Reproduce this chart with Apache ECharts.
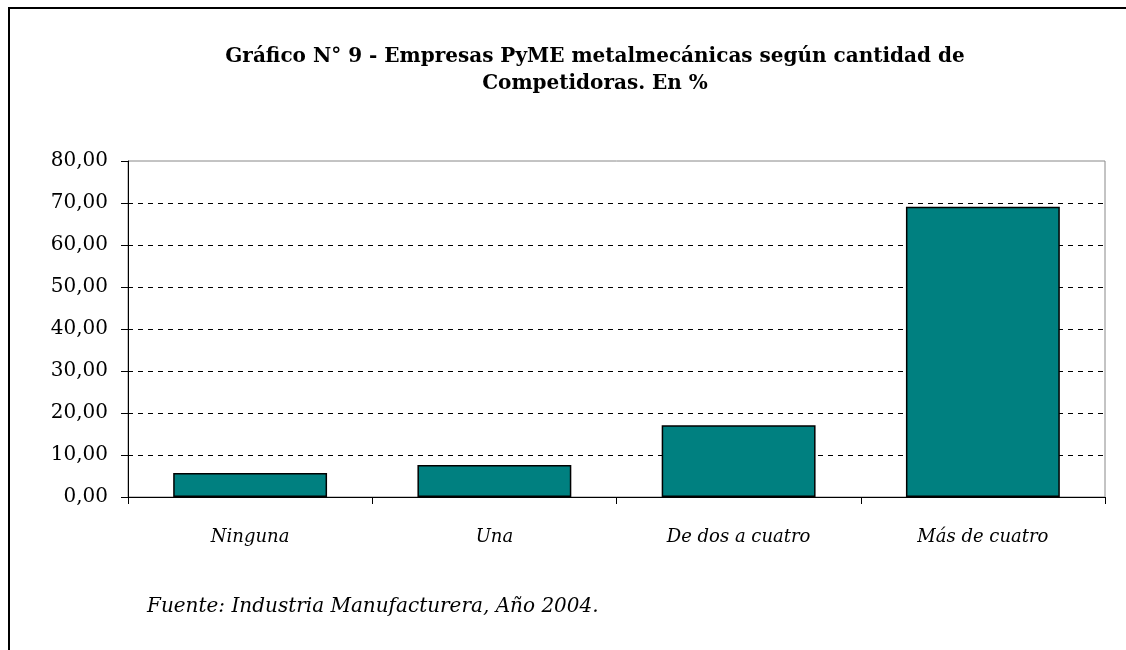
<!DOCTYPE html>
<html>
<head>
<meta charset="utf-8">
<script src="https://cdn.jsdelivr.net/npm/echarts@6/dist/echarts.min.js"></script>
<style>
  html, body { margin: 0; padding: 0; background: #fff; }
  #chart { width: 1126px; height: 650px; }
</style>
</head>
<body>
<div id="chart"></div>
<script>
var categories = ['Ninguna', 'Una', 'De dos a cuatro', 'Más de cuatro'];
var values = [5.7, 7.6, 17.1, 69.1];
var titleLines = [
    'Gráfico N° 9 - Empresas PyME metalmecánicas según cantidad de',
    'Competidoras. En %'
];
var sourceText = 'Fuente: Industria Manufacturera, Año 2004.';

var serif = '"DejaVu Serif", "Liberation Serif", serif';
var chart = echarts.init(document.getElementById('chart'));

var option = {
    backgroundColor: '#fff',
    animation: false,
    title: {
        text: titleLines.join('\n'),
        left: 590,
        textAlign: 'center',
        top: 38,
        textStyle: {
            fontFamily: serif,
            fontWeight: 'bold',
            fontSize: 20,
            lineHeight: 27,
            color: '#000'
        }
    },
    graphic: [
        {
            type: 'rect',
            shape: { x: 9, y: 8, width: 1300, height: 800 },
            style: { fill: 'none', stroke: '#000', lineWidth: 2 },
            silent: true
        },
        {
            type: 'text',
            left: 147,
            top: 597,
            style: {
                text: sourceText,
                fontFamily: serif,
                fontStyle: 'italic',
                fontSize: 20,
                fill: '#000'
            }
        }
    ],
    grid: {
        left: 128,
        right: 21,
        top: 161,
        bottom: 153,
        show: true,
        borderColor: '#888',
        borderWidth: 1
    },
    xAxis: {
        type: 'category',
        data: categories,
        axisLine: { lineStyle: { color: '#000', width: 1 } },
        axisTick: { show: true, length: 7, alignWithLabel: false, lineStyle: { color: '#000' } },
        axisLabel: {
            margin: 31,
            fontFamily: serif,
            fontStyle: 'italic',
            fontSize: 18,
            color: '#000'
        },
        splitLine: { show: false }
    },
    yAxis: {
        type: 'value',
        min: 0,
        max: 80,
        interval: 10,
        axisLine: { show: true, lineStyle: { color: '#000', width: 1 } },
        axisTick: { show: true, length: 7, lineStyle: { color: '#000' } },
        axisLabel: {
            margin: 20,
            fontFamily: serif,
            fontSize: 20,
            color: '#000',
            formatter: function (v) {
                return v.toFixed(2).replace('.', ',');
            }
        },
        splitLine: {
            show: true,
            lineStyle: {
                color: ['rgba(0,0,0,0)', '#000', '#000', '#000', '#000', '#000', '#000', '#000', 'rgba(0,0,0,0)'],
                type: [5, 5],
                width: 1
            }
        }
    },
    series: [{
        type: 'bar',
        data: values,
        barWidth: '63%',
        itemStyle: {
            color: '#008080',
            borderColor: '#000',
            borderWidth: 1.5
        }
    }]
};
chart.setOption(option);
</script>
</body>
</html>
